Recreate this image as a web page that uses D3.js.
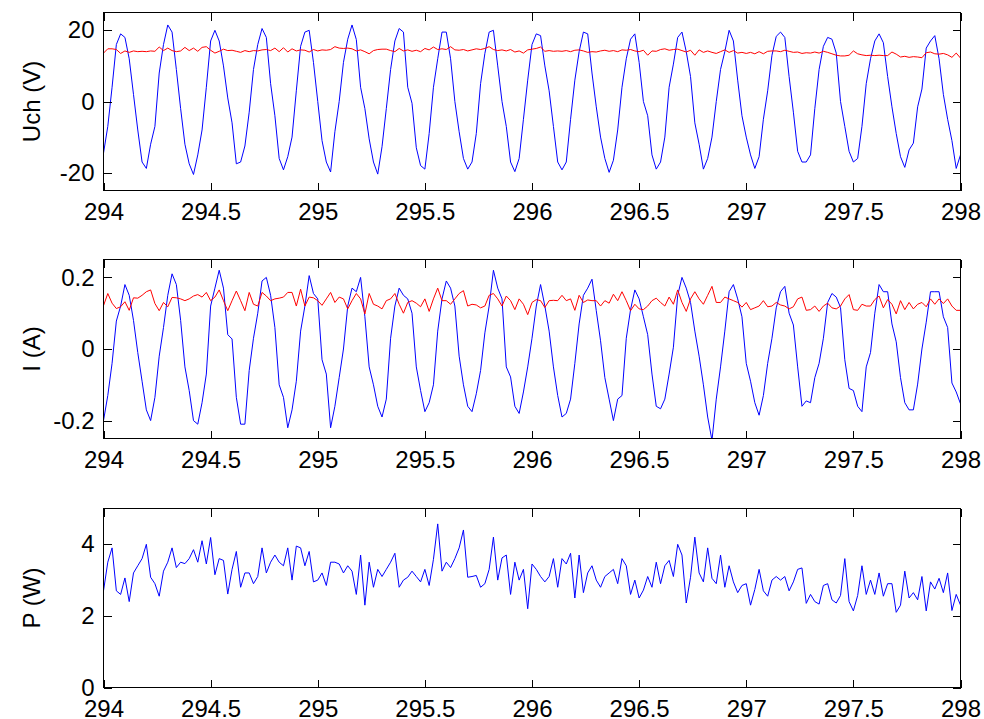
<!DOCTYPE html>
<html>
<head>
<meta charset="utf-8">
<script src="https://cdn.jsdelivr.net/npm/d3@7/dist/d3.min.js"></script>
<style>
  html, body { margin: 0; padding: 0; background: #fff; }
  svg { display: block; }
  text { font-family: "Liberation Sans", Arial, Helvetica, sans-serif; fill: #000; }
</style>
</head>
<body>
<svg id="chart" width="984" height="719"></svg>
<script>
// Sampling: 50 Hz from t = 294 s to t = 298 s
const tStart = 294;
const sampleStep = 0.02;

// Channel voltage Uch (V): AC component (blue) and DC level (red)
const uchAC = [
  -14.5, -7, 4, 16, 19, 18, 12, 2, -8, -17,
  -18.8, -12, -7, 8, 16, 21.5, 19.5, 9, -2, -12,
  -17.5, -20.5, -15, -8, 4, 17, 20, 17, 10, 1,
  -6, -17.5, -17, -12.5, -3, 9, 16, 20.5, 18, 5,
  -4, -16, -19.2, -15.5, -10, 3, 15.5, 19.5, 20, 11,
  0, -11, -17, -19.8, -8.5, 0, 11, 17.5, 21.5, 17.4,
  4, -2, -10.5, -17, -20.4, -12.7, -2, 9, 17, 20.5,
  19.5, 4, -0.5, -13, -18, -19, -9, 4, 12, 19.5,
  19.5, 12, 0, -8.5, -16, -19, -17, -9, 5, 13.5,
  19.5, 20, 10, 0, -7, -17, -19.7, -16, -5, 6,
  16, 19, 18.5, 10, 3, -7, -17, -19.2, -17, -5,
  6, 14, 19.5, 19, 8, -1.5, -10, -16, -19.9, -16.5,
  -8, 4, 12, 17.5, 19, 11, 0, -4, -15, -19,
  -17, -10, 4, 10.5, 18, 19.5, 14, 7, -6, -12,
  -19, -16, -10, 0, 9, 14, 20, 17, 6, -4,
  -10, -15, -18.8, -15.5, -5, 3, 13, 18.3, 19.5, 18,
  7, -3, -14, -17, -17, -15, -2, 9, 15.5, 18,
  17.5, 13.6, 0, -7, -14, -17, -16, -7, 5, 12,
  17, 19, 16.5, 7, -1.5, -9, -15.5, -18.5, -13.6, -11.7,
  -1.5, 3.5, 15, 17, 18.5, 12, 2, -5, -11, -18.8,
  -15
];
const uchDC = [
  13.6, 14.8, 14.8, 14.6, 13.5, 14.2, 13.8, 14.2, 14.0, 14.1,
  14.0, 14.2, 14.1, 15.3, 14.3, 15.0, 14.3, 14.0, 14.2, 15.2,
  14.3, 15.0, 14.1, 15.2, 15.4, 14.4, 13.6, 14.1, 14.7, 14.3,
  14.4, 14.1, 13.8, 14.3, 14.0, 14.3, 14.2, 14.5, 14.6, 14.3,
  15.0, 14.0, 15.1, 13.9, 14.8, 14.2, 14.5, 14.4, 13.9, 14.6,
  14.2, 14.5, 14.4, 14.6, 15.4, 15.0, 14.9, 15.0, 14.8, 14.2,
  14.5, 14.0, 13.4, 14.3, 14.6, 14.7, 14.7, 14.3, 14.0, 14.9,
  14.2, 14.5, 14.1, 14.4, 14.0, 14.9, 14.5, 15.3, 14.6, 14.8,
  14.6, 15.4, 14.5, 14.4, 14.6, 14.2, 14.5, 14.8, 14.6, 14.9,
  15.4, 14.6, 14.3, 14.5, 14.2, 14.6, 13.9, 14.2, 13.6, 14.5,
  14.7, 14.9, 15.3, 14.1, 14.3, 14.1, 14.2, 14.1, 14.3, 14.0,
  14.4, 14.5, 14.2, 13.8, 14.0, 13.9, 14.2, 14.4, 14.1, 14.3,
  14.0, 14.5, 14.4, 14.6, 14.2, 14.0, 14.4, 13.0, 14.2, 14.1,
  14.6, 14.8, 14.4, 14.6, 14.7, 14.3, 13.9, 14.4, 13.0, 14.5,
  13.8, 14.2, 13.8, 13.5, 14.0, 14.5, 13.8, 14.3, 13.6, 13.8,
  13.5, 13.8, 13.4, 14.0, 13.4, 14.1, 14.2, 14.2, 14.0, 14.4,
  14.1, 13.8, 13.9, 13.5, 13.7, 13.6, 13.9, 13.6, 14.1, 13.8,
  13.4, 13.0, 12.8, 12.8, 13.0, 14.2, 13.4, 13.1, 12.9, 13.0,
  12.9, 13.0, 12.9, 12.9, 13.9, 13.3, 12.5, 12.7, 12.4, 12.6,
  12.5, 12.3, 13.7, 13.9, 13.4, 13.3, 13.5, 13.1, 12.4, 13.6,
  12.2
];

// Current I (A): AC component (blue) and DC level (red)
const currentAC = [
  -0.2, -0.13, -0.04, 0.078, 0.12, 0.18, 0.15, 0.08, -0.01, -0.09,
  -0.17, -0.2, -0.135, -0.02, 0.06, 0.15, 0.21, 0.18, 0.08, -0.05,
  -0.116, -0.2, -0.21, -0.15, -0.07, 0.12, 0.17, 0.22, 0.17, 0.04,
  0.028, -0.135, -0.21, -0.21, -0.06, 0.03, 0.1, 0.19, 0.2, 0.15,
  0.06, -0.1, -0.135, -0.22, -0.17, -0.09, 0.05, 0.12, 0.205, 0.155,
  0.14, -0.03, -0.07, -0.22, -0.16, -0.08, 0.0, 0.12, 0.17, 0.16,
  0.2, 0.09, -0.05, -0.1, -0.16, -0.19, -0.14, 0.03, 0.12, 0.17,
  0.15, 0.14, 0.1, -0.05, -0.116, -0.175, -0.15, -0.1, 0.05, 0.14,
  0.19, 0.17, 0.12, -0.02, -0.1, -0.16, -0.175, -0.125, -0.06, 0.045,
  0.12, 0.22, 0.17, 0.14, -0.05, -0.078, -0.16, -0.18, -0.12, -0.05,
  0.03, 0.12, 0.18, 0.12, 0.05, -0.05, -0.13, -0.19, -0.18, -0.14,
  -0.04, 0.07, 0.15, 0.17, 0.195, 0.107, 0.023, -0.08, -0.14, -0.2,
  -0.14, -0.13, 0.03, 0.11, 0.165, 0.14, 0.09, 0.04, -0.07, -0.16,
  -0.167, -0.14, -0.07, 0.005, 0.15, 0.2, 0.17, 0.13, 0.05, -0.02,
  -0.1, -0.19, -0.255, -0.14, -0.05, 0.05, 0.16, 0.18, 0.14, 0.09,
  -0.04, -0.09, -0.15, -0.185, -0.13, -0.04, 0.03, 0.115, 0.16, 0.175,
  0.1, 0.067, -0.05, -0.16, -0.145, -0.15, -0.08, -0.04, 0.03, 0.13,
  0.155, 0.145, 0.116, -0.03, -0.11, -0.116, -0.16, -0.175, -0.05, -0.01,
  0.1, 0.18, 0.16, 0.16, 0.07, 0.02, -0.08, -0.15, -0.17, -0.17,
  -0.098, 0.0, 0.075, 0.16, 0.16, 0.16, 0.09, 0.06, -0.095, -0.12,
  -0.153
];
const currentDC = [
  0.121, 0.155, 0.128, 0.113, 0.118, 0.132, 0.108, 0.143, 0.142, 0.15,
  0.16, 0.165, 0.127, 0.107, 0.13, 0.118, 0.144, 0.143, 0.14, 0.135,
  0.14, 0.148, 0.152, 0.145, 0.158, 0.135, 0.145, 0.165, 0.135, 0.107,
  0.135, 0.162, 0.135, 0.107, 0.158, 0.125, 0.12, 0.158, 0.148, 0.135,
  0.14, 0.142, 0.145, 0.158, 0.158, 0.12, 0.167, 0.12, 0.145, 0.143,
  0.135, 0.122, 0.14, 0.158, 0.13, 0.145, 0.14, 0.112, 0.135, 0.155,
  0.14, 0.098, 0.155, 0.125, 0.12, 0.112, 0.135, 0.14, 0.155, 0.125,
  0.1, 0.13, 0.135, 0.128, 0.118, 0.14, 0.105, 0.14, 0.17, 0.135,
  0.135, 0.125, 0.14, 0.155, 0.163, 0.12, 0.125, 0.123, 0.115, 0.12,
  0.15, 0.155, 0.14, 0.12, 0.148, 0.135, 0.11, 0.14, 0.125, 0.096,
  0.13, 0.138, 0.135, 0.116, 0.135, 0.136, 0.135, 0.15, 0.135, 0.14,
  0.108, 0.15, 0.13, 0.137, 0.135, 0.135, 0.12, 0.135, 0.128, 0.153,
  0.135, 0.16, 0.135, 0.107, 0.125, 0.112, 0.11, 0.12, 0.135, 0.142,
  0.13, 0.12, 0.145, 0.125, 0.165, 0.13, 0.105, 0.14, 0.16, 0.14,
  0.125, 0.15, 0.175, 0.13, 0.13, 0.145, 0.14, 0.135, 0.13, 0.117,
  0.13, 0.11, 0.115, 0.12, 0.135, 0.118, 0.12, 0.13, 0.123, 0.12,
  0.112, 0.118, 0.14, 0.145, 0.108, 0.11, 0.12, 0.105, 0.12, 0.128,
  0.115, 0.112, 0.12, 0.14, 0.152, 0.11, 0.108, 0.125, 0.12, 0.12,
  0.138, 0.148, 0.115, 0.138, 0.125, 0.098, 0.135, 0.11, 0.13, 0.112,
  0.125, 0.13, 0.118, 0.14, 0.125, 0.14, 0.127, 0.14, 0.12, 0.108,
  0.108
];

// Power P (W)
const power = [
  2.7, 3.5, 3.9, 2.7, 2.6, 3.06, 2.4, 3.2, 3.4, 3.6,
  4.0, 3.08, 2.9, 2.55, 3.25, 3.5, 3.9, 3.35, 3.5, 3.46,
  3.6, 3.85, 3.5, 4.1, 3.45, 4.19, 3.15, 3.6, 3.55, 2.61,
  3.3, 3.8, 2.8, 3.2, 3.2, 2.9, 3.1, 3.9, 3.2, 3.5,
  3.7, 3.5, 3.4, 3.9, 3.0, 3.95, 3.9, 3.4, 3.8, 2.95,
  3.0, 3.2, 2.85, 3.5, 3.5, 3.45, 3.2, 3.4, 3.25, 2.6,
  3.7, 2.3, 3.5, 2.8, 3.3, 3.1, 3.3, 3.5, 3.75, 2.8,
  3.0, 3.08, 3.25, 3.1, 2.95, 3.3, 2.85, 3.58, 4.57, 3.25,
  3.5, 3.35, 3.6, 3.9, 4.4, 3.08, 3.1, 3.13, 2.8, 2.9,
  3.3, 4.2, 3.0, 3.62, 3.7, 2.6, 3.5, 3.0, 3.3, 2.2,
  3.45, 3.3, 3.1, 2.95, 3.1, 3.6, 2.8, 3.6, 3.45, 3.75,
  2.5, 3.7, 2.65, 3.2, 3.4, 3.0, 2.8, 3.1, 3.2, 3.3,
  2.9, 3.6, 3.4, 2.6, 3.0, 2.5, 2.72, 3.1, 2.8, 3.5,
  2.9, 3.4, 3.55, 3.1, 4.0, 3.7, 2.36, 3.08, 4.2, 3.2,
  2.95, 3.9, 3.05, 2.9, 3.7, 2.8, 3.4, 2.95, 2.65, 2.85,
  2.9, 2.3, 2.74, 3.3, 2.7, 2.55, 3.0, 3.1, 3.0, 3.1,
  2.7, 2.95, 3.3, 3.34, 2.35, 2.6, 2.4, 2.33, 2.85, 2.9,
  2.45, 2.36, 2.57, 3.6, 2.4, 2.14, 2.57, 3.4, 2.6, 3.0,
  2.6, 3.2, 2.55, 2.9, 2.9, 2.1, 2.3, 3.25, 2.5, 2.65,
  2.45, 3.1, 2.14, 2.95, 2.75, 3.05, 2.65, 3.2, 2.15, 2.6,
  2.3
];

// Axis ticks
const xTicks = [294, 294.5, 295, 295.5, 296, 296.5, 297, 297.5, 298];
const xDomain = [294, 298];
const uchTicks = [-20, 0, 20];
const uchDomain = [-25, 25];
const currentTicks = [-0.2, 0, 0.2];
const currentDomain = [-0.25, 0.25];
const powerTicks = [0, 2, 4];
const powerDomain = [0, 5];

const times = uchAC.map((_, i) => +(tStart + i * sampleStep).toFixed(4));

const svg = d3.select("#chart");
const plotLeft = 103.5, plotRight = 960.5;
const tickLen = 8;
const fontSize = 24;

const x = d3.scaleLinear().domain(xDomain).range([plotLeft, plotRight]);

const panels = [
  { top: 12.5, bottom: 190.5, domain: uchDomain, ticks: uchTicks, label: "Uch (V)",
    series: [{ values: uchAC, color: "#0000ff" }, { values: uchDC, color: "#ff0000" }],
    fmt: d => String(d) },
  { top: 259.5, bottom: 438.5, domain: currentDomain, ticks: currentTicks, label: "I (A)",
    series: [{ values: currentAC, color: "#0000ff" }, { values: currentDC, color: "#ff0000" }],
    fmt: d => String(d) },
  { top: 508.5, bottom: 687.5, domain: powerDomain, ticks: powerTicks, label: "P (W)",
    series: [{ values: power, color: "#0000ff" }],
    fmt: d => String(d) }
];

const fmtX = d => String(d);

panels.forEach((p, pi) => {
  const y = d3.scaleLinear().domain(p.domain).range([p.bottom, p.top]);
  const g = svg.append("g");

  const clipId = "clip" + pi;
  svg.append("clipPath").attr("id", clipId)
    .append("rect")
    .attr("x", plotLeft).attr("y", p.top)
    .attr("width", plotRight - plotLeft).attr("height", p.bottom - p.top);

  // data lines
  const line = d3.line()
    .x((d, i) => x(times[i]))
    .y(d => y(d));
  const lines = g.append("g").attr("clip-path", `url(#${clipId})`);
  p.series.forEach(s => {
    lines.append("path")
      .datum(s.values)
      .attr("fill", "none")
      .attr("stroke", s.color)
      .attr("stroke-width", 1)
      .attr("stroke-linejoin", "round")
      .attr("d", line);
  });

  // bottom axis with labels, ticks pointing inward
  const bottomAxis = d3.axisBottom(x).tickValues(xTicks).tickFormat(fmtX)
    .tickSizeInner(-tickLen).tickSizeOuter(0).tickPadding(12);
  const gb = g.append("g").attr("transform", `translate(0,${p.bottom})`).call(bottomAxis);

  // top axis: ticks only
  const topAxis = d3.axisTop(x).tickValues(xTicks).tickFormat("")
    .tickSizeInner(-tickLen).tickSizeOuter(0);
  const gt = g.append("g").attr("transform", `translate(0,${p.top})`).call(topAxis);

  // left axis with labels
  const leftAxis = d3.axisLeft(y).tickValues(p.ticks).tickFormat(p.fmt)
    .tickSizeInner(-tickLen).tickSizeOuter(0).tickPadding(9);
  const gl = g.append("g").attr("transform", `translate(${plotLeft},0)`).call(leftAxis);

  // right axis: ticks only
  const rightAxis = d3.axisRight(y).tickValues(p.ticks).tickFormat("")
    .tickSizeInner(-tickLen).tickSizeOuter(0);
  const gr = g.append("g").attr("transform", `translate(${plotRight},0)`).call(rightAxis);

  [gb, gt, gl, gr].forEach(a => {
    a.select(".domain").remove();
    a.selectAll(".tick line").attr("stroke", "#000").attr("stroke-width", 1)
      .attr("shape-rendering", "crispEdges");
    a.selectAll("text").attr("font-size", fontSize)
      .attr("font-family", "'Liberation Sans', Arial, sans-serif").attr("fill", "#000");
  });

  // axes box
  g.append("rect")
    .attr("x", plotLeft).attr("y", p.top)
    .attr("width", plotRight - plotLeft).attr("height", p.bottom - p.top)
    .attr("fill", "none").attr("stroke", "#000").attr("stroke-width", 1)
    .attr("shape-rendering", "crispEdges");

  // y-axis title
  g.append("text")
    .attr("transform", `translate(40,${(p.top + p.bottom) / 2}) rotate(-90)`)
    .attr("text-anchor", "middle")
    .attr("font-size", fontSize)
    .text(p.label);
});
</script>
</body>
</html>
